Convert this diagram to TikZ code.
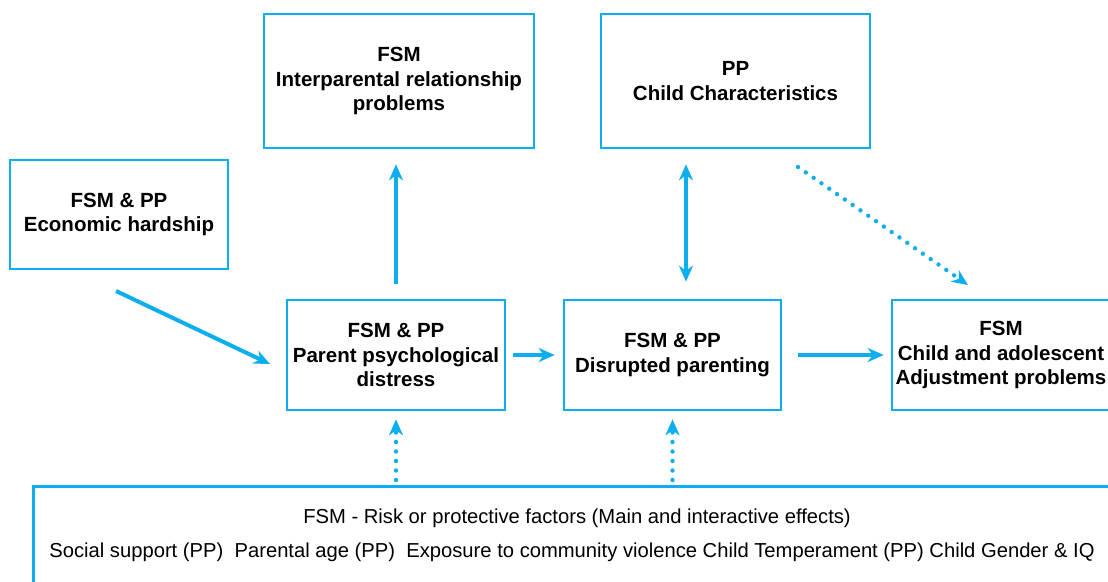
\documentclass[tikz,border=0pt]{standalone}
\usepackage{fontspec}
\setmainfont{Liberation Sans}
\usetikzlibrary{positioning,arrows.meta}
\definecolor{fsmblue}{RGB}{12,174,238}

\begin{document}
\begin{tikzpicture}[x=1pt,y=-1pt]
		\tikzset{
			box/.style={draw=fsmblue, line width=2.6pt, align=center, inner sep=0pt,
				font=\bfseries\fontsize{20.5}{24.5}\selectfont},
			link/.style={fsmblue, line width=4pt, -{Stealth[length=16pt,width=14pt,inset=5pt]}},
			duallink/.style={link, {Stealth[length=16pt,width=14pt,inset=5pt]}-{Stealth[length=16pt,width=14pt,inset=5pt]}},
			dotlink/.style={link, line width=4.4pt, line cap=round, dash pattern=on 0pt off 9.5pt},
			factor/.style={font=\fontsize{20.2}{24}\selectfont, inner sep=0pt}
		}
		\useasboundingbox (0,0) rectangle (1108,581);
		% boxes
		\node [box, minimum width=270, minimum height=134] (ip) at (399,81) {FSM\\Interparental relationship\\problems};
		\node [box, minimum width=269, minimum height=134] (cc) at (735.5,81) {PP\\Child Characteristics};
		\node [box, minimum width=218, minimum height=109] (eh) at (119,214.5) {FSM \& PP\\Economic hardship};
		\node [box, minimum width=218, minimum height=110] (pd) at (396,355) {FSM \& PP\\Parent psychological\\distress};
		\node [box, minimum width=217, minimum height=110] (dp) at (672.5,355) {FSM \& PP\\Disrupted parenting};
		\node [box, minimum width=218, minimum height=110] (ca) at (1001,355) {FSM\\Child and adolescent\\Adjustment problems};
		\node [box, minimum width=1080, minimum height=120, anchor=north west] (rf) at (32,485) {};
		\node [factor] (rftitle) at (577,518) {FSM - Risk or protective factors (Main and interactive effects)};
		\node [factor] (rfitems) at (572,552) {Social support (PP)\ \ Parental age (PP)\ \ Exposure to community violence Child Temperament (PP) Child Gender \& IQ};
		% free ends
		\coordinate (eh-out) at (116,291);
		\coordinate (pd-in) at (270,364);
		\coordinate (cc-out) at (798,167);
		\coordinate (ca-in) at (968,285);
		% connectors
		\draw [link] (eh-out) -- (pd-in);
		\draw [link, shorten <=15pt, shorten >=15pt] (pd.north) -- (pd.north |- ip.south);
		\draw [duallink, shorten <=17pt, shorten >=15pt] ([xshift=13.5pt]dp.north) -- ([xshift=13.5pt]dp.north |- cc.south);
		\draw [dotlink] (cc-out) -- (ca-in);
		\draw [link, shorten <=7pt, shorten >=8pt] (pd.east) -- (dp.west);
		\draw [link, shorten <=16pt, shorten >=7pt] (dp.east) -- (ca.west);
		\draw [dotlink, shorten <=5pt, shorten >=8pt] (pd.south |- rf.north) -- (pd.south);
		\draw [dotlink, shorten <=5pt, shorten >=8pt] (dp.south |- rf.north) -- (dp.south);
		\end{tikzpicture}
\end{document}
